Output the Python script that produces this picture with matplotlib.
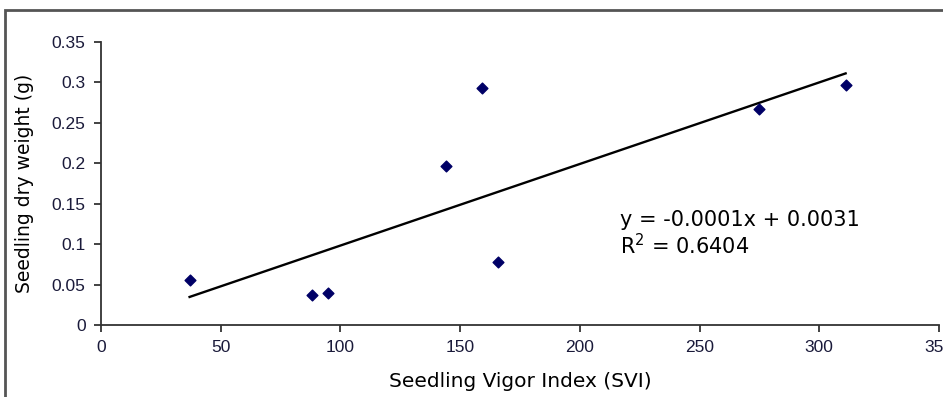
import matplotlib.pyplot as plt
import numpy as np
from matplotlib.patches import Rectangle

# seedling vigor index vs dry weight
svi = [37, 88, 95, 144, 159, 166, 275, 311]
dry_weight = [0.055, 0.037, 0.040, 0.197, 0.293, 0.078, 0.267, 0.297]

x_ticks = [0, 50, 100, 150, 200, 250, 300, 350]
y_ticks = [0, 0.05, 0.1, 0.15, 0.2, 0.25, 0.3, 0.35]
y_tick_labels = ["0", "0.05", "0.1", "0.15", "0.2", "0.25", "0.3", "0.35"]

fig = plt.figure(figsize=(9.43, 3.97), dpi=100)
ax = fig.add_axes([101 / 943, 1 - 325 / 397, 838 / 943, (325 - 41.7) / 397])

# outer chart border (runs off the right and bottom edges)
fig.patches.append(Rectangle((5 / 943, -0.2), 1.2, 1.2 - 10 / 397, transform=fig.transFigure,
                             fill=False, edgecolor="#555555", linewidth=2))

ax.scatter(svi, dry_weight, marker="D", s=30, color="#000066", zorder=3)

# linear trendline
slope, intercept = np.polyfit(svi, dry_weight, 1)
xs = np.array([min(svi), max(svi)])
ax.plot(xs, slope * xs + intercept, color="black", linewidth=1.7, zorder=2)

ax.set_xlim(0, 350)
ax.set_ylim(0, 0.35)
ax.set_xticks(x_ticks)
ax.set_yticks(y_ticks)
ax.set_yticklabels(y_tick_labels)
for lab in ax.get_xticklabels() + ax.get_yticklabels():
    lab.set_fontfamily("Liberation Sans")
    lab.set_fontsize(12.5)
    lab.set_color("#1a1a3a")
ax.tick_params(direction="out", length=5, width=1.2, color="#222222", pad=6)
for side in ["top", "right"]:
    ax.spines[side].set_visible(False)
for side in ["left", "bottom"]:
    ax.spines[side].set_linewidth(1.3)
    ax.spines[side].set_color("#333333")

ax.set_xlabel("Seedling Vigor Index (SVI)", fontfamily="DejaVu Sans", fontsize=14.5, labelpad=12)
ax.set_ylabel("Seedling dry weight (g)", fontfamily="DejaVu Sans", fontsize=13.5, labelpad=13)

ax.text(620 / 943, 1 - 220 / 397, "y = -0.0001x + 0.0031", transform=fig.transFigure,
        fontfamily="DejaVu Sans", fontsize=15, va="center")
ax.text(620 / 943, 1 - 246 / 397, "R$^2$ = 0.6404", transform=fig.transFigure,
        fontfamily="DejaVu Sans", fontsize=15, va="center")

fig.savefig("out.png", dpi=100)
